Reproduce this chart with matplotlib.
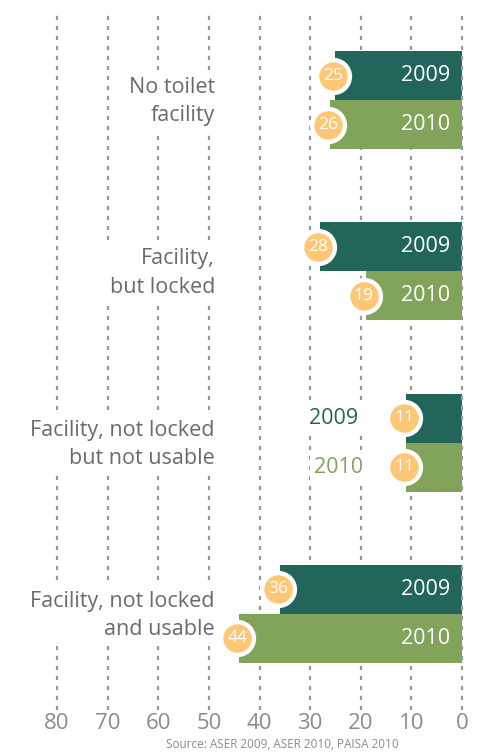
import matplotlib.pyplot as plt

plt.rcParams['font.family'] = ['Open Sans', 'DejaVu Sans']
plt.rcParams['lines.scale_dashes'] = False

categories = ['No toilet\nfacility', 'Facility,\nbut locked',
              'Facility, not locked\nbut not usable', 'Facility, not locked\nand usable']
years = ['2009', '2010']
values_2009 = [25, 28, 11, 36]
values_2010 = [26, 19, 11, 44]
ticks = [80, 70, 60, 50, 40, 30, 20, 10, 0]

dark = '#216659'
light = '#82a35a'
orange = '#fdc776'
grey_txt = '#6b6b6b'

fig = plt.figure(figsize=(4.82, 7.52), dpi=100)
ax = fig.add_axes([0, 1 - 710 / 752, 1, 698 / 752])
ax.set_xlim(91.26, -3.95)
ax.set_ylim(3.561, -0.514)

bh = 0.286
ys = list(range(len(categories)))

for t in ticks:
    ax.axvline(t, color='#9a9a9a', lw=1.6, linestyle=(0, (3, 4.2)),
               zorder=4 if t == 0 else 0)

ax.barh([y - bh / 2 for y in ys], values_2009, height=bh, color=dark, zorder=2)
ax.barh([y + bh / 2 for y in ys], values_2010, height=bh, color=light, zorder=2)

for i, y in enumerate(ys):
    for v, yy, col, yr in [(values_2009[i], y - bh / 2, dark, years[0]),
                           (values_2010[i], y + bh / 2, light, years[1])]:
        ax.scatter(v + 0.4, yy, s=720, color='white', zorder=5, linewidths=0)
        ax.scatter(v + 0.4, yy, s=420, color=orange, zorder=6, linewidths=0)
        ax.text(v + 0.4, yy, str(v), color='white', fontsize=12.5,
                ha='center', va='center', zorder=7)
        if v > 15:
            ax.text(2.4, yy, yr, color='white', fontsize=15.5,
                    ha='right', va='center', zorder=7)
        else:
            ax.text(20.5 if yr == '2009' else 19.6, yy, yr, color=col, fontsize=15.5,
                    ha='right', va='center', zorder=3,
                    bbox=dict(facecolor='white', edgecolor='none', pad=3))
    ax.text(48.8, y + 0.01, categories[i], color=grey_txt, fontsize=15.5, ha='right',
            va='center', linespacing=1.45, zorder=3,
            bbox=dict(facecolor='white', edgecolor='none', pad=4))

ax.set_yticks([])
ax.set_xticks(ticks)
ax.set_xticklabels([str(t) for t in ticks], color='#8c8c8c', fontsize=16)
ax.tick_params(axis='x', length=0, pad=2)
for s in ax.spines.values():
    s.set_visible(False)

fig.text(282 / 482, 1 - 745 / 752, 'Source: ASER 2009, ASER 2010, PAISA 2010',
         color='#8c8c8c', fontsize=8.5, ha='center', va='center')

fig.savefig('out.png', dpi=100)
